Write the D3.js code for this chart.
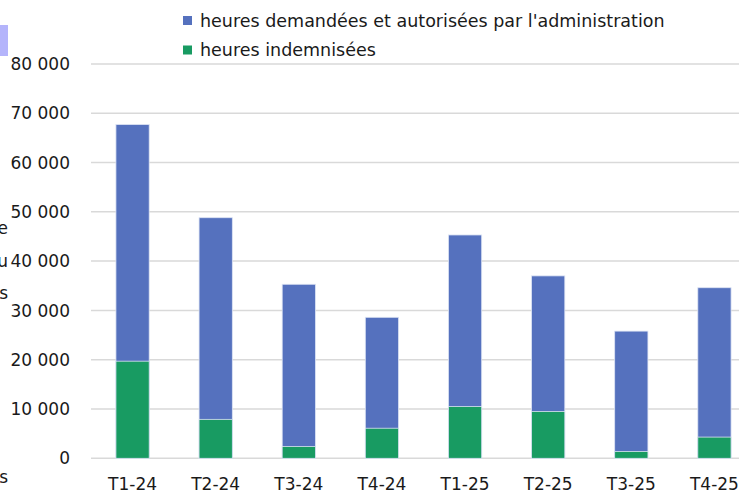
<!DOCTYPE html>
<html>
<head>
<meta charset="utf-8">
<script src="https://cdn.jsdelivr.net/npm/d3@7"></script>
<style>
  body { margin: 0; background: #fff; overflow: hidden; }
  svg { display: block; font-family: "DejaVu Sans", sans-serif; }
</style>
</head>
<body>
<svg id="chart" width="739" height="491"></svg>
<script>
// Chart data
const quarters = ["T1-24", "T2-24", "T3-24", "T4-24", "T1-25", "T2-25", "T3-25", "T4-25"];
const heuresAutorisees = [67700, 48800, 35300, 28600, 45300, 37000, 25800, 34600];
const heuresIndemnisees = [19700, 7900, 2400, 6100, 10500, 9500, 1400, 4300];
const yTicks = [0, 10000, 20000, 30000, 40000, 50000, 60000, 70000, 80000];
const seriesNames = ["heures demandées et autorisées par l'administration", "heures indemnisées"];
const colors = ["#5571be", "#189b62"];

const svg = d3.select("#chart");

// SCALES
const xScale = d3.scaleBand()
  .domain(quarters)
  .range([91, 756])
  .paddingInner(0.6)
  .paddingOuter(0.3);

const yScale = d3.scaleLinear()
  .domain([0, 80000])
  .range([458.3, 63.9]);

const fmt = (v) => d3.format(",")(v).replace(/,/g, " ");

// Gridlines
svg.append("g")
  .selectAll("line")
  .data(yTicks)
  .join("line")
  .attr("x1", 91)
  .attr("x2", 739)
  .attr("y1", (d) => yScale(d))
  .attr("y2", (d) => yScale(d))
  .attr("stroke", "#d9d9d9")
  .attr("stroke-width", 1.5);

// Y axis labels
svg.append("g")
  .selectAll("text")
  .data(yTicks)
  .join("text")
  .attr("x", 70)
  .attr("y", (d) => yScale(d))
  .attr("dy", "0.36em")
  .attr("text-anchor", "end")
  .attr("font-size", 17)
  .attr("fill", "#1a1a1a")
  .text((d) => fmt(d));

// Blue bars (total authorised hours)
svg.append("g")
  .selectAll("rect")
  .data(quarters)
  .join("rect")
  .attr("x", (d) => xScale(d))
  .attr("y", (d, i) => yScale(heuresAutorisees[i]))
  .attr("width", xScale.bandwidth())
  .attr("height", (d, i) => yScale(0) - yScale(heuresAutorisees[i]))
  .attr("fill", colors[0])
  .attr("stroke", "#dde4f4")
  .attr("stroke-width", 0.8);

// Green bars (indemnified hours)
svg.append("g")
  .selectAll("rect")
  .data(quarters)
  .join("rect")
  .attr("x", (d) => xScale(d))
  .attr("y", (d, i) => yScale(heuresIndemnisees[i]))
  .attr("width", xScale.bandwidth())
  .attr("height", (d, i) => yScale(0) - yScale(heuresIndemnisees[i]))
  .attr("fill", colors[1])
  .attr("stroke", "#dde4f4")
  .attr("stroke-width", 0.8);

// X labels
svg.append("g")
  .selectAll("text")
  .data(quarters)
  .join("text")
  .attr("x", (d) => xScale(d) + xScale.bandwidth() / 2)
  .attr("y", 490)
  .attr("text-anchor", "middle")
  .attr("font-size", 17)
  .attr("fill", "#1a1a1a")
  .text((d) => d);

// Legend
const legend = svg.append("g")
  .selectAll("g")
  .data(seriesNames)
  .join("g")
  .attr("transform", (d, i) => `translate(183, ${16 + i * 29.5})`);

legend.append("rect")
  .attr("width", 9)
  .attr("height", 9)
  .attr("fill", (d, i) => colors[i]);

legend.append("text")
  .attr("x", 17)
  .attr("y", 4.5)
  .attr("dy", "0.36em")
  .attr("font-size", 17.5)
  .attr("fill", "#1a1a1a")
  .text((d) => d);

// Cropped fragments on the left edge
svg.append("rect")
  .attr("x", 0)
  .attr("y", 25)
  .attr("width", 8)
  .attr("height", 31)
  .attr("fill", "#b4b4fb");

svg.append("g")
  .selectAll("text")
  .data([["e", 228], ["u", 261], ["s", 293], ["s", 477]])
  .join("text")
  .attr("x", 8)
  .attr("y", (d) => d[1])
  .attr("dy", "0.36em")
  .attr("text-anchor", "end")
  .attr("font-size", 17)
  .attr("fill", "#1a1a1a")
  .text((d) => d[0]);
</script>
</body>
</html>
